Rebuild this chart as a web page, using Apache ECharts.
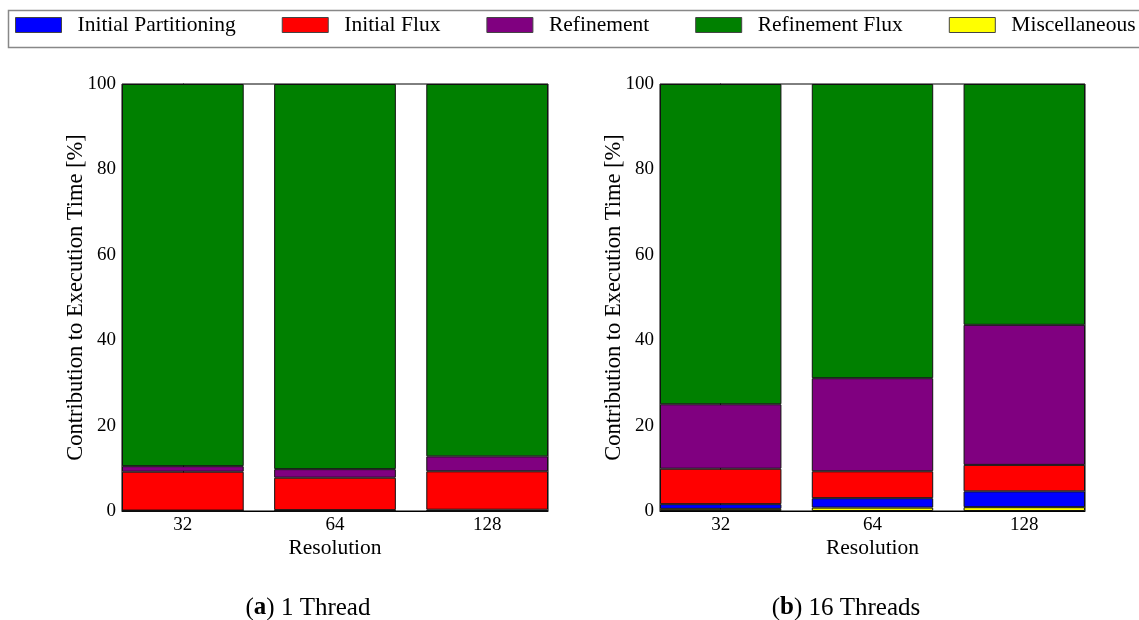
<!DOCTYPE html>
<html>
<head>
<meta charset="utf-8">
<script src="https://cdn.jsdelivr.net/npm/echarts@6/dist/echarts.min.js"></script>
<style>
  html, body { margin: 0; padding: 0; background: #fff; }
  #chart { width: 1139px; height: 620px; }
</style>
</head>
<body>
<div id="chart"></div>
<script>
// Resolutions on the x axis
const resolutions = ['32', '64', '128'];

// Share of execution time [%] per phase, 1 thread
const oneMisc        = [0.0, 0.0, 0.0];
const onePartition   = [0.1, 0.2, 0.3];
const oneFlux        = [9.1, 7.6, 9.0];
const oneRefine      = [1.3, 2.0, 3.5];
const oneRefineFlux  = [89.5, 90.2, 87.2];

// Share of execution time [%] per phase, 16 threads
const sixMisc        = [0.5, 0.8, 0.9];
const sixPartition   = [1.1, 2.2, 3.7];
const sixFlux        = [8.3, 6.3, 6.2];
const sixRefine      = [15.1, 21.8, 32.8];
const sixRefineFlux  = [75.0, 68.9, 56.4];

const yTicks = [0, 20, 40, 60, 80, 100];

const phaseNames = ['Initial Partitioning', 'Initial Flux', 'Refinement', 'Refinement Flux', 'Miscellaneous'];
const phaseColors = {
  'Initial Partitioning': '#0000ff',
  'Initial Flux': '#ff0000',
  'Refinement': '#800080',
  'Refinement Flux': '#008000',
  'Miscellaneous': '#ffff00'
};

const SERIF = '"Liberation Serif", "DejaVu Serif", serif';

// Plot panels
const panels = [
  { left: 122, right: 591 },
  { left: 660, right: 54 }
];
const TOP = 84, BOTTOM = 109, W = 1139;
const BAR_REL = 0.8, X_MIN = -0.4, X_MAX = 2.4;

function barWidthFor(p) {
  const w = W - p.left - p.right;
  return w * BAR_REL / (X_MAX - X_MIN);
}

const chart = echarts.init(document.getElementById('chart'), null, { renderer: 'canvas' });

const grids = panels.map(p => ({
  left: p.left, right: p.right, top: TOP, bottom: BOTTOM,
  show: true, borderColor: '#000', borderWidth: 1, backgroundColor: 'transparent',
  containLabel: false
}));

const xAxes = panels.map((p, i) => ({
  type: 'value', gridIndex: i, min: X_MIN, max: X_MAX,
  name: 'Resolution', nameLocation: 'middle', nameGap: 26, nameMoveOverlap: false,
  nameTextStyle: { fontFamily: SERIF, fontSize: 21.5, color: '#000' },
  axisLine: { show: true, lineStyle: { color: '#000', width: 1 } },
  axisTick: { show: false },
  axisLabel: {
    customValues: [0, 1, 2], margin: 5,
    formatter: v => resolutions[Math.round(v)],
    fontFamily: SERIF, fontSize: 19, color: '#000'
  },
  splitLine: { show: false }
}));

const yAxes = panels.map((p, i) => ({
  type: 'value', gridIndex: i, min: 0, max: 100, interval: 20,
  name: 'Contribution to Execution Time [%]', nameLocation: 'middle', nameGap: 34, nameMoveOverlap: false,
  nameTextStyle: { fontFamily: SERIF, fontSize: 22.5, color: '#000' },
  axisLine: { show: true, lineStyle: { color: '#000', width: 1 } },
  axisTick: { show: false },
  axisLabel: {
    margin: 6, fontFamily: SERIF, fontSize: 19, color: '#000',
    formatter: v => (yTicks.indexOf(v) >= 0 ? String(v) : '')
  },
  splitLine: { show: false }
}));

const panelData = [
  { 'Miscellaneous': oneMisc, 'Initial Partitioning': onePartition, 'Initial Flux': oneFlux, 'Refinement': oneRefine, 'Refinement Flux': oneRefineFlux },
  { 'Miscellaneous': sixMisc, 'Initial Partitioning': sixPartition, 'Initial Flux': sixFlux, 'Refinement': sixRefine, 'Refinement Flux': sixRefineFlux }
];
// Bottom-to-top stacking order
const stackOrder = ['Miscellaneous', 'Initial Partitioning', 'Initial Flux', 'Refinement', 'Refinement Flux'];

const series = [];
panelData.forEach((pd, i) => {
  stackOrder.forEach(name => {
    series.push({
      type: 'bar', name: name, xAxisIndex: i, yAxisIndex: i,
      stack: 'panel' + i,
      barWidth: barWidthFor(panels[i]),
      itemStyle: { color: phaseColors[name], borderColor: '#111', borderWidth: 1 },
      emphasis: { disabled: true },
      // value first so the stack accumulates the share, bar position second
      encode: { x: 1, y: 0 },
      data: pd[name].map((v, k) => [v, k])
    });
  });
});

chart.setOption({
  animation: false,
  backgroundColor: '#fff',
  grid: grids,
  xAxis: xAxes,
  yAxis: yAxes,
  legend: {
    data: phaseNames,
    left: 15, top: 14, padding: 0, width: 1300,
    itemWidth: 46, itemHeight: 15, itemGap: 46,
    icon: 'rect',
    itemStyle: { borderColor: '#444', borderWidth: 1 },
    textStyle: { fontFamily: SERIF, fontSize: 21.5, color: '#000', padding: [0, 0, 0, 11] }
  },
  graphic: [
    {
      type: 'rect', left: 6, top: 8, silent: true,
      shape: { width: 1140, height: 37 },
      style: { fill: 'none', stroke: '#888', lineWidth: 1.5 }
    },
    {
      type: 'text', silent: true,
      style: {
        x: 308, y: 608, text: '({b|a}) 1 Thread', align: 'center', verticalAlign: 'middle',
        fontFamily: SERIF, fontSize: 25, fill: '#000',
        rich: { b: { fontWeight: 'bold', fontFamily: SERIF, fontSize: 25 } }
      }
    },
    {
      type: 'text', silent: true,
      style: {
        x: 846, y: 608, text: '({b|b}) 16 Threads', align: 'center', verticalAlign: 'middle',
        fontFamily: SERIF, fontSize: 25, fill: '#000',
        rich: { b: { fontWeight: 'bold', fontFamily: SERIF, fontSize: 25 } }
      }
    }
  ],
  series: series
});
</script>
</body>
</html>
